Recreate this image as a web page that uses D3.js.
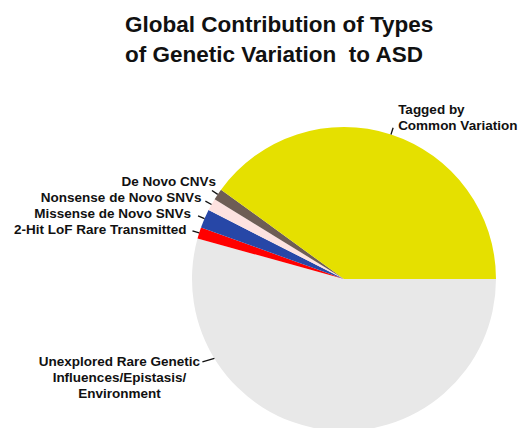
<!DOCTYPE html>
<html><head><meta charset="utf-8">
<script src="https://cdn.jsdelivr.net/npm/d3@7"></script>
<style>body{margin:0;background:#fff}svg{display:block}text{font-family:"Liberation Sans",Arial,sans-serif;font-weight:bold;fill:#111;white-space:pre}</style>
</head><body>
<svg id="c" width="521" height="428"></svg>
<script>
const categories = ["Unexplored Rare Genetic Influences/Epistasis/ Environment", "2-Hit LoF Rare Transmitted", "Missense de Novo SNVs", "Nonsense de Novo SNVs", "De Novo CNVs", "Tagged by Common Variation"];
const labelLines = [["Unexplored Rare Genetic","Influences/Epistasis/","Environment"],["2-Hit LoF Rare Transmitted"],["Missense de Novo SNVs"],["Nonsense de Novo SNVs"],["De Novo CNVs"],["Tagged by","Common Variation"]];
const values = [54.3, 1.2, 2.0, 1.3, 1.2, 40.0];
const colors = ["#e8e8e8", "#ff0000", "#2747a7", "#fde2e0", "#6e5d55", "#e5e000"];
const titleLines = ["Global Contribution of Types", "of Genetic Variation  to ASD"];

// layout
const cx = 344, cy = 279, r = 152;
const labelLayout = [
  {angle: 211.5*Math.PI/180, dy: 4, anchor: "middle", tx: -83},
  {dx: -6, dy: 3, anchor: "end"},
  {dx: -7, dy: 2, anchor: "end"},
  {dx: -4, dy: 1, anchor: "end"},
  {dx: 4, dy: -4, anchor: "end"},
  {dx: 5, dy: -14, anchor: "start"}
];

const svg = d3.select("#c");
svg.append("g").selectAll("text").data(titleLines).join("text")
  .attr("x", 125).attr("y", (d,i) => 32 + i*30)
  .attr("xml:space", "preserve")
  .attr("font-size", 22.5).text(d => d);

const pie = d3.pie().sort(null).value(d => d).startAngle(Math.PI/2).endAngle(Math.PI/2 + 2*Math.PI);
const arcs = pie(values);
const arc = d3.arc().innerRadius(0).outerRadius(r);
const g = svg.append("g").attr("transform", `translate(${cx},${cy})`);
g.selectAll("path").data(arcs).join("path")
  .attr("d", arc).attr("fill", (d,i) => colors[i]);

// leaders and labels
arcs.forEach((a, i) => {
  const L = labelLayout[i];
  let ang;
  if (L.angle !== undefined) ang = Math.PI/2 - L.angle;
  else ang = (a.startAngle + a.endAngle)/2;
  const p1 = [Math.sin(ang)*r, -Math.cos(ang)*r];
  const p2 = [Math.sin(ang)*(r+7), -Math.cos(ang)*(r+7)];
  let p0 = p2;
  if (L.angle !== undefined) p0 = [p1[0] - 12, p1[1] + 3.5];
  g.append("line").attr("x1", p1[0]).attr("y1", p1[1]).attr("x2", p0[0]).attr("y2", p0[1])
    .attr("stroke", "#111").attr("stroke-width", 1.3);
  const lx = p0[0] + (L.tx !== undefined ? L.tx : L.dx);
  const ly = p0[1] + L.dy;
  const t = g.append("text").attr("text-anchor", L.anchor).attr("font-size", 13.5);
  labelLines[i].forEach((s, k) => {
    t.append("tspan").attr("x", lx).attr("y", ly + k*16).text(s);
  });
});
</script>
</body></html>
